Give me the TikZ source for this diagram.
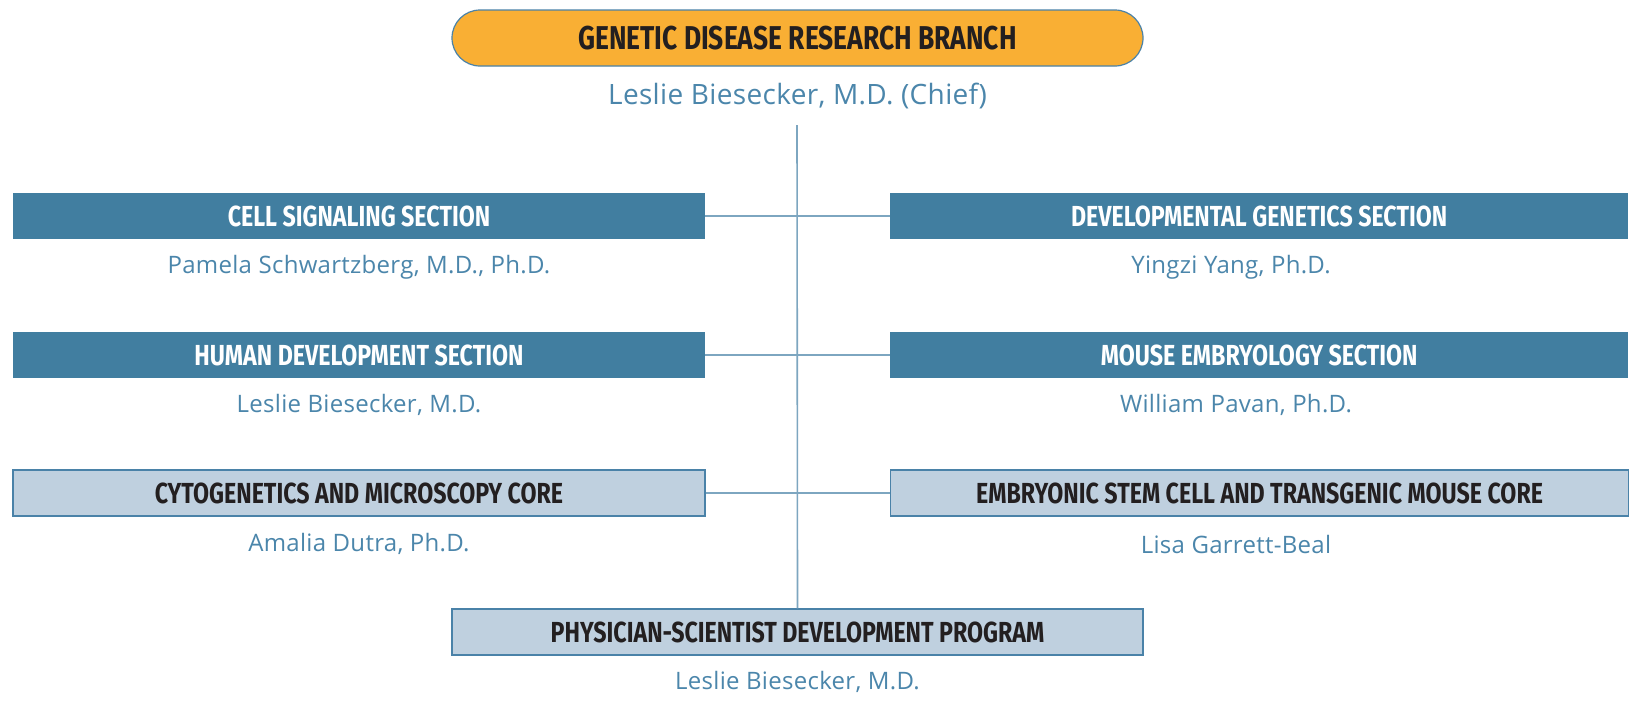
\documentclass[tikz,border=0pt]{standalone}
\usepackage{fontspec}
\setmainfont{Open Sans}
\newfontfamily\titlefont[FakeStretch=0.8]{Fira Sans}
\newfontfamily\namefont[LetterSpace=1.2]{Open Sans}
\definecolor{orangefill}{HTML}{F9AF34}
\definecolor{darkbox}{HTML}{417EA0}
\definecolor{lightbox}{HTML}{BFD0DF}
\definecolor{boxborder}{HTML}{4A82A8}
\definecolor{linkline}{HTML}{7DA6C0}
\definecolor{nametext}{HTML}{4B86AB}
\definecolor{darktext}{HTML}{231F20}
\tikzset{
  topbox/.style={draw=boxborder, line width=1.2pt, fill=orangefill, rounded corners=28pt,
    minimum width=691pt, minimum height=56pt, inner sep=0pt, text=darktext,
    font=\titlefont\bfseries\fontsize{33}{33}\selectfont},
  secbox/.style={fill=darkbox, minimum height=46pt, inner sep=0pt, text=white,
    font=\titlefont\bfseries\fontsize{29}{29}\selectfont},
  corebox/.style={draw=boxborder, line width=1.2pt, fill=lightbox, minimum height=46pt, inner sep=0pt, text=darktext,
    font=\titlefont\bfseries\fontsize{29}{29}\selectfont},
  person/.style={text=nametext, inner sep=0pt, font=\namefont\fontsize{24}{24}\selectfont},
  chief/.style={text=nametext, inner sep=0pt, font=\namefont\fontsize{28}{28}\selectfont},
  link/.style={draw=linkline, line width=1.6pt}
}
\newcommand{\rtext}[1]{\makebox[692pt][c]{#1}\hspace{46pt}}
\begin{document}
\begin{tikzpicture}[x=1pt, y=-1pt]
\path[fill=white, use as bounding box] (0,0) rectangle (1630,723);
% top
\node[topbox] (branch) at (797.5,38) {GENETIC DISEASE RESEARCH BRANCH};
\node[chief] (chiefname) at (797.5,96) {Leslie Biesecker, M.D. (Chief)};
\coordinate (vtop) at (797,125);
% left boxes
\node[secbox, minimum width=692pt] (cell) at (359,216) {CELL SIGNALING SECTION};
\node[secbox, minimum width=692pt] (human) at (359,355) {HUMAN DEVELOPMENT SECTION};
\node[corebox, minimum width=692pt] (cyto) at (359,493) {CYTOGENETICS AND MICROSCOPY CORE};
% right boxes
\node[secbox, minimum width=738pt, anchor=west] (devgen) at (890,216) {\rtext{DEVELOPMENTAL GENETICS SECTION}};
\node[secbox, minimum width=738pt, anchor=west] (mouse) at (890,355) {\rtext{MOUSE EMBRYOLOGY SECTION}};
\node[corebox, minimum width=738pt, anchor=west] (escore) at (890,493) {\rtext{EMBRYONIC STEM CELL AND TRANSGENIC MOUSE CORE}};
% bottom
\node[corebox, minimum width=691pt] (psd) at (797.5,632) {PHYSICIAN-SCIENTIST DEVELOPMENT PROGRAM};
% names
\node[person] (n1) at (359,267) {Pamela Schwartzberg, M.D., Ph.D.};
\node[person] (n2) at (1231,267) {Yingzi Yang, Ph.D.};
\node[person] (n3) at (359,405) {Leslie Biesecker, M.D.};
\node[person] (n4) at (1236,405) {William Pavan, Ph.D.};
\node[person] (n5) at (359,544) {Amalia Dutra, Ph.D.};
\node[person] (n6) at (1236,544) {Lisa Garrett-Beal};
\node[person] (n7) at (797.5,682) {Leslie Biesecker, M.D.};
% connectors
\draw[link] (vtop) -- (psd.north);
\draw[link] (cell.east) -- (devgen.west);
\draw[link] (human.east) -- (mouse.west);
\draw[link] (cyto.east) -- (escore.west);
\end{tikzpicture}
\end{document}
